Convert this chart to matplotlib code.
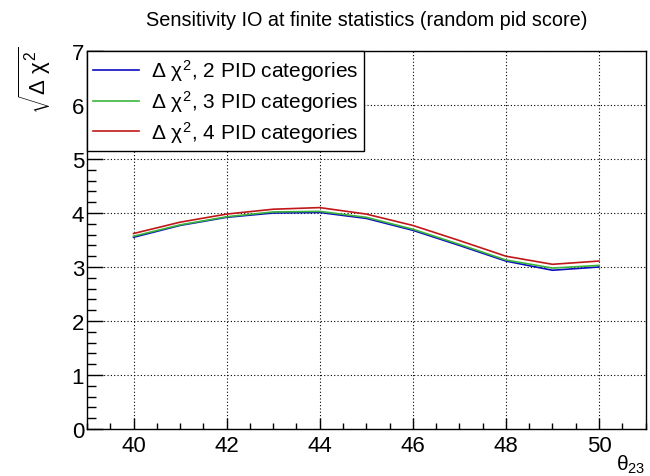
import matplotlib
matplotlib.use("Agg")
import matplotlib.pyplot as plt
from matplotlib.ticker import MultipleLocator

plt.rcParams['font.family'] = ['Liberation Sans', 'DejaVu Sans']
plt.rcParams['mathtext.fontset'] = 'custom'
plt.rcParams['mathtext.rm'] = 'Liberation Sans'
plt.rcParams['mathtext.it'] = 'Liberation Sans'
plt.rcParams['mathtext.bf'] = 'Liberation Sans:bold'
plt.rcParams['mathtext.sf'] = 'Liberation Sans'

theta23 = [40, 41, 42, 43, 44, 45, 46, 47, 48, 49, 50]
pid2 = [3.55, 3.77, 3.92, 4.00, 4.01, 3.90, 3.68, 3.40, 3.11, 2.94, 3.00]
pid3 = [3.57, 3.78, 3.93, 4.02, 4.03, 3.92, 3.70, 3.42, 3.13, 2.98, 3.03]
pid4 = [3.62, 3.83, 3.98, 4.07, 4.10, 3.98, 3.77, 3.49, 3.20, 3.05, 3.11]
labels = [r'$\Delta\ \chi^{2}$, 2 PID categories',
          r'$\Delta\ \chi^{2}$, 3 PID categories',
          r'$\Delta\ \chi^{2}$, 4 PID categories']
colors = ['#0c0cc0', '#3cb43c', '#c01818']
title = 'Sensitivity IO at finite statistics (random pid score)'

W, H = 650, 477
fig = plt.figure(figsize=(W / 100, H / 100), dpi=100)
L, R, T, B = 87, 645.5, 52, 430
ax = fig.add_axes([L / W, 1 - B / H, (R - L) / W, (B - T) / H])

for y, lab, c in zip([pid2, pid3, pid4], labels, colors):
    ax.plot(theta23, y, color=c, lw=1.2, label=lab, zorder=3)

ax.set_xlim(39, 51)
ax.set_ylim(0, 7)
ax.xaxis.set_major_locator(MultipleLocator(2))
ax.xaxis.set_minor_locator(MultipleLocator(0.5))
ax.yaxis.set_major_locator(MultipleLocator(1))
ax.yaxis.set_minor_locator(MultipleLocator(0.2))
ax.tick_params(axis='both', which='both', direction='in', top=False, right=False,
               labelsize=16, width=1, color='black')
ax.tick_params(axis='x', which='major', length=8, pad=4)
ax.tick_params(axis='x', which='minor', length=4)
ax.tick_params(axis='y', which='major', length=11.5, pad=2)
ax.tick_params(axis='y', which='minor', length=6.3)
for s in ax.spines.values():
    s.set_linewidth(1)
ax.grid(True, which='major', color='black', linestyle=(0, (1, 2)), linewidth=0.8, zorder=1)
ax.set_axisbelow(True)

leg = ax.legend(loc='upper left', bbox_to_anchor=(0, 1), borderaxespad=0,
                fancybox=False, framealpha=1, edgecolor='black', fontsize=15,
                handlelength=2.2, handletextpad=0.55, labelspacing=0.24,
                borderpad=0.3)
leg.get_frame().set_linewidth(1)
leg.set_zorder(5)

fig.text((L + R) / 2 / W, 1 - 21 / H, title, ha='center', va='center', fontsize=14.3)
fig.text(R / W, 1 - 476 / H, r'$\theta_{23}$', ha='right', va='bottom', fontsize=15)
fig.text(35 / W, 1 - 46 / H, r'$\sqrt{\Delta\ \chi^{2}}$', ha='center', va='top',
         rotation=90, fontsize=16)

fig.savefig('out.png', dpi=100)
